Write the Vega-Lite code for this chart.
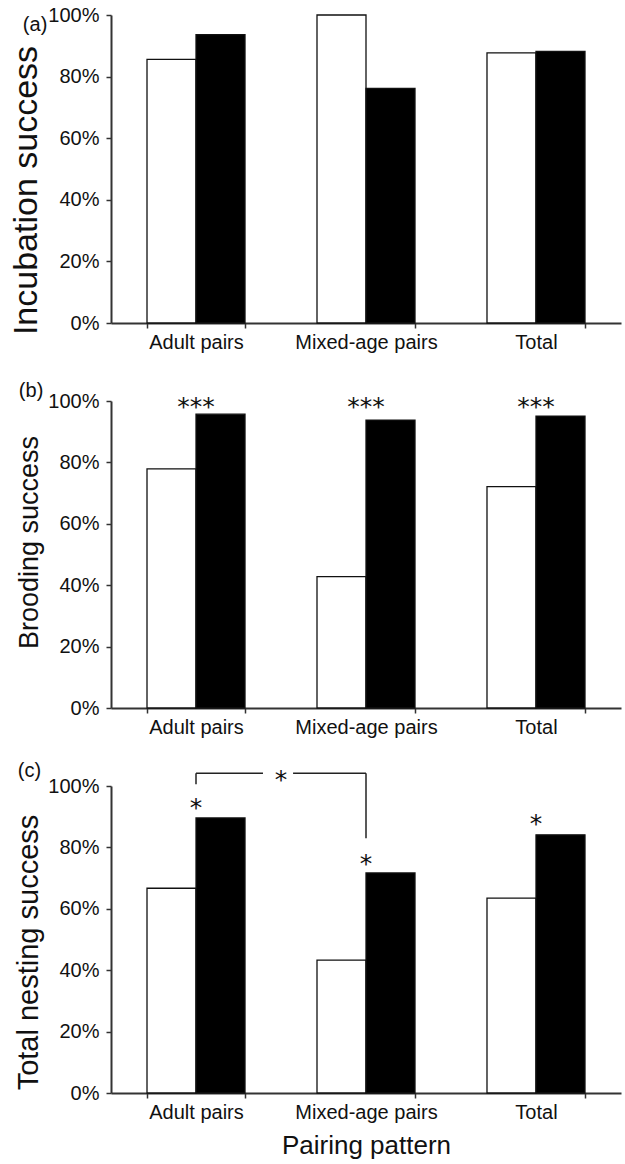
{
  "$schema": "https://vega.github.io/schema/vega-lite/v6.json",
  "background": "white",
  "padding": {"left": 9, "top": 5, "right": 2, "bottom": 5},
  "datasets": {
    "bars": [
      {"panel": "a", "group": "Adult pairs", "type": "white", "value": 0.856},
      {"panel": "a", "group": "Adult pairs", "type": "black", "value": 0.936},
      {"panel": "a", "group": "Mixed-age pairs", "type": "white", "value": 1.0},
      {"panel": "a", "group": "Mixed-age pairs", "type": "black", "value": 0.762},
      {"panel": "a", "group": "Total", "type": "white", "value": 0.877},
      {"panel": "a", "group": "Total", "type": "black", "value": 0.882},
      {"panel": "b", "group": "Adult pairs", "type": "white", "value": 0.779},
      {"panel": "b", "group": "Adult pairs", "type": "black", "value": 0.957},
      {"panel": "b", "group": "Mixed-age pairs", "type": "white", "value": 0.428},
      {"panel": "b", "group": "Mixed-age pairs", "type": "black", "value": 0.938},
      {"panel": "b", "group": "Total", "type": "white", "value": 0.721},
      {"panel": "b", "group": "Total", "type": "black", "value": 0.951},
      {"panel": "c", "group": "Adult pairs", "type": "white", "value": 0.667},
      {"panel": "c", "group": "Adult pairs", "type": "black", "value": 0.896},
      {"panel": "c", "group": "Mixed-age pairs", "type": "white", "value": 0.433},
      {"panel": "c", "group": "Mixed-age pairs", "type": "black", "value": 0.717},
      {"panel": "c", "group": "Total", "type": "white", "value": 0.635},
      {"panel": "c", "group": "Total", "type": "black", "value": 0.841}
    ],
    "stars": [
      {"panel": "b", "group": "Adult pairs", "label": "***", "pos": 0.98},
      {"panel": "b", "group": "Mixed-age pairs", "label": "***", "pos": 0.98},
      {"panel": "b", "group": "Total", "label": "***", "pos": 0.98},
      {"panel": "c", "group": "Adult pairs", "label": "*", "pos": 0.927},
      {"panel": "c", "group": "Mixed-age pairs", "label": "*", "pos": 0.745},
      {"panel": "c", "group": "Total", "label": "*", "pos": 0.877}
    ],
    "bracket": [
      {"seg": "h1", "x": 0.5, "x2": 0.894, "y": 1.0413, "y2": 1.0413},
      {"seg": "h2", "x": 1.071, "x2": 1.5, "y": 1.0413, "y2": 1.0413},
      {"seg": "v1", "x": 0.5, "x2": 0.5, "y": 1.0413, "y2": 1.0055},
      {"seg": "v2", "x": 1.5, "x2": 1.5, "y": 1.0413, "y2": 0.8298}
    ],
    "bracketStar": [
      {"x": 1.0, "label": "*", "pos": 1.0186}
    ]
  },
  "vconcat": [
    {
      "width": 510,
      "height": 308,
      "title": {"text": "(a)", "anchor": "start", "frame": "bounds", "fontSize": 20, "fontWeight": "normal", "font": "Liberation Sans", "color": "#111", "offset": -30, "dx": 13},
      "data": {"name": "bars"},
      "transform": [{"filter": "datum.panel === 'a'"}],
      "mark": {"type": "bar", "stroke": "#111", "strokeWidth": 1.3},
      "encoding": {
        "x": {"field": "group", "type": "nominal", "sort": ["Adult pairs", "Mixed-age pairs", "Total"], "scale": {"paddingInner": 0.4235, "paddingOuter": 0.2118}, "axis": {"title": null, "labelAngle": 0, "tickBand": "extent", "labelPadding": 4}},
        "xOffset": {"field": "type", "type": "nominal", "sort": ["white", "black"], "scale": {"paddingInner": 0, "paddingOuter": 0}},
        "y": {"field": "value", "type": "quantitative", "scale": {"domain": [0, 1], "nice": false}, "axis": {"title": "Incubation success", "titleFontSize": 34, "titleY": 175, "values": [0, 0.2, 0.4, 0.6, 0.8, 1], "format": ".0%"}},
        "fill": {"field": "type", "type": "nominal", "scale": {"domain": ["white", "black"], "range": ["#ffffff", "#000000"]}, "legend": null}
      }
    },
    {
      "width": 510,
      "height": 307,
      "title": {"text": "(b)", "anchor": "start", "frame": "bounds", "fontSize": 20, "fontWeight": "normal", "font": "Liberation Sans", "color": "#111", "offset": -10, "dx": 3},
      "layer": [
        {
          "data": {"name": "bars"},
          "transform": [{"filter": "datum.panel === 'b'"}],
          "mark": {"type": "bar", "stroke": "#111", "strokeWidth": 1.3},
          "encoding": {
            "x": {"field": "group", "type": "nominal", "sort": ["Adult pairs", "Mixed-age pairs", "Total"], "scale": {"paddingInner": 0.4235, "paddingOuter": 0.2118}, "axis": {"title": null, "labelAngle": 0, "tickBand": "extent", "labelPadding": 4}},
            "xOffset": {"field": "type", "type": "nominal", "sort": ["white", "black"], "scale": {"paddingInner": 0, "paddingOuter": 0}},
            "y": {"field": "value", "type": "quantitative", "scale": {"domain": [0, 1], "nice": false}, "axis": {"title": "Brooding success", "titleFontSize": 27, "titleY": 141, "values": [0, 0.2, 0.4, 0.6, 0.8, 1], "format": ".0%"}},
            "fill": {"field": "type", "type": "nominal", "scale": {"domain": ["white", "black"], "range": ["#ffffff", "#000000"]}, "legend": null}
          }
        },
        {
          "data": {"name": "stars"},
          "transform": [{"filter": "datum.panel === 'b'"}],
          "mark": {"type": "text", "font": "DejaVu Sans", "fontSize": 25, "baseline": "middle", "color": "#111"},
          "encoding": {
            "x": {"field": "group", "type": "nominal", "sort": ["Adult pairs", "Mixed-age pairs", "Total"]},
            "y": {"field": "pos", "type": "quantitative"},
            "text": {"field": "label"}
          }
        }
      ]
    },
    {
      "width": 510,
      "height": 307,
      "title": {"text": "(c)", "anchor": "start", "frame": "bounds", "fontSize": 20, "fontWeight": "normal", "font": "Liberation Sans", "color": "#111", "offset": -13, "dx": 3},
      "resolve": {"scale": {"x": "independent"}, "axis": {"x": "independent"}},
      "layer": [
        {
          "layer": [
            {
              "data": {"name": "bars"},
              "transform": [{"filter": "datum.panel === 'c'"}],
              "mark": {"type": "bar", "stroke": "#111", "strokeWidth": 1.3},
              "encoding": {
                "x": {"field": "group", "type": "nominal", "sort": ["Adult pairs", "Mixed-age pairs", "Total"], "scale": {"paddingInner": 0.4235, "paddingOuter": 0.2118}, "axis": {"title": "Pairing pattern", "titleFontSize": 26, "titlePadding": 10, "labelAngle": 0, "tickBand": "extent", "labelPadding": 4}},
                "xOffset": {"field": "type", "type": "nominal", "sort": ["white", "black"], "scale": {"paddingInner": 0, "paddingOuter": 0}},
                "y": {"field": "value", "type": "quantitative", "scale": {"domain": [0, 1], "nice": false}, "axis": {"title": "Total nesting success", "titleFontSize": 29, "titleY": 166, "values": [0, 0.2, 0.4, 0.6, 0.8, 1], "format": ".0%"}},
                "fill": {"field": "type", "type": "nominal", "scale": {"domain": ["white", "black"], "range": ["#ffffff", "#000000"]}, "legend": null}
              }
            },
            {
              "data": {"name": "stars"},
              "transform": [{"filter": "datum.panel === 'c'"}],
              "mark": {"type": "text", "font": "DejaVu Sans", "fontSize": 25, "baseline": "middle", "color": "#111"},
              "encoding": {
                "x": {"field": "group", "type": "nominal", "sort": ["Adult pairs", "Mixed-age pairs", "Total"]},
                "y": {"field": "pos", "type": "quantitative"},
                "text": {"field": "label"}
              }
            }
          ]
        },
        {
          "layer": [
            {
              "data": {"name": "bracket"},
              "mark": {"type": "rule", "color": "#222", "strokeWidth": 1.5},
              "encoding": {
                "x": {"field": "x", "type": "quantitative", "scale": {"domain": [0, 3], "nice": false, "zero": false}, "axis": null},
                "x2": {"field": "x2"},
                "y": {"field": "y", "type": "quantitative"},
                "y2": {"field": "y2"}
              }
            },
            {
              "data": {"name": "bracketStar"},
              "mark": {"type": "text", "font": "DejaVu Sans", "fontSize": 25, "baseline": "middle", "color": "#111"},
              "encoding": {
                "x": {"field": "x", "type": "quantitative"},
                "y": {"field": "pos", "type": "quantitative"},
                "text": {"field": "label"}
              }
            }
          ]
        }
      ]
    }
  ],
  "spacing": 78,
  "bounds": "flush",
  "config": {
    "view": {"stroke": null},
    "axis": {
      "domainColor": "#333",
      "domainWidth": 2,
      "tickColor": "#333",
      "tickWidth": 1.5,
      "tickSize": 5,
      "labelColor": "#111",
      "titleColor": "#111",
      "labelFont": "Liberation Sans",
      "titleFont": "Liberation Sans",
      "titleFontWeight": "normal",
      "labelFontSize": 20,
      "grid": false
    },
    "axisY": {"labelPadding": 7, "titlePadding": 4}
  }
}
